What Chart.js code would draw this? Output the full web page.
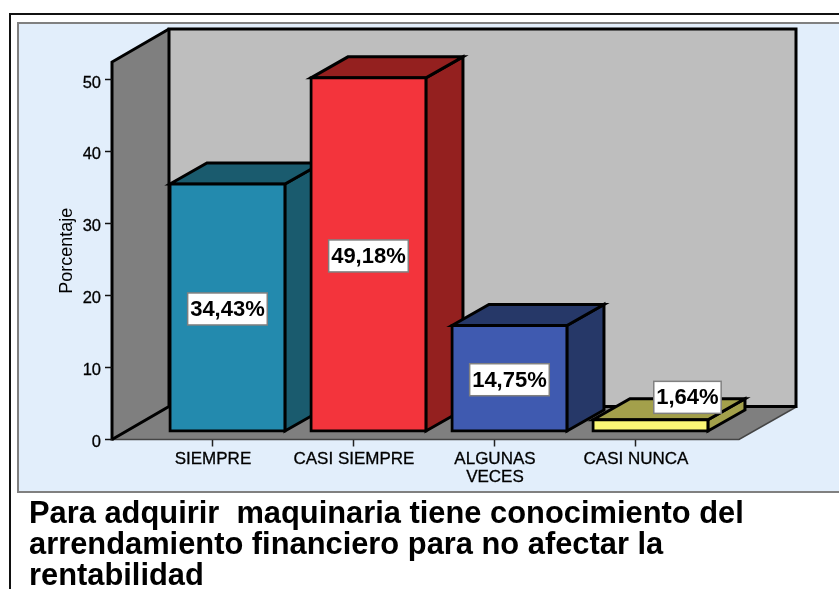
<!DOCTYPE html>
<html>
<head>
<meta charset="utf-8">
<style>html,body{margin:0;padding:0;background:#fff}canvas{display:block}</style>
<script src="https://cdn.jsdelivr.net/npm/chart.js@4"></script>
</head>
<body>
<canvas id="c" width="839" height="589"></canvas>
<script>
const categories = ['SIEMPRE', 'CASI SIEMPRE', ['ALGUNAS', 'VECES'], 'CASI NUNCA'];
const percentages = [34.43, 49.18, 14.75, 1.64];
const frontColors = ['#238AAE', '#F3343C', '#3F5AB0', '#FBF775'];
const sideColors = ['#1A5B6E', '#94201F', '#263868', '#A3A04B'];
const yTicks = [0, 10, 20, 30, 40, 50];
const titleLines = ['Para adquirir  maquinaria tiene conocimiento del', 'arrendamiento financiero para no afectar la', 'rentabilidad'];
const axisTitle = 'Porcentaje';

const FONT = "'Liberation Sans', Arial, sans-serif";
const WALL = {dx: 57, dy: 33};
const BAR_SHIFT = {x: 14.5, y: 8};
const BAR_DEPTH = {dx: 37, dy: 21};
const LABEL_NUDGE = [[0, 1.5], [0, 1.5], [0, 1.5], [37, -28]];

const scene = {
  id: 'scene',
  beforeDraw(chart) {
    const {ctx, chartArea: a, scales: {y}} = chart;
    const x0 = a.left, y0 = y.getPixelForValue(0), xB = a.right, yTop = a.top;
    const xF = xB - WALL.dx;
    const yT = yTop - WALL.dy;
    ctx.save();
    ctx.fillStyle = '#fff'; ctx.fillRect(0, 0, 839, 589);
    // outer frame
    ctx.strokeStyle = '#111'; ctx.lineWidth = 2;
    ctx.beginPath(); ctx.moveTo(10, 589); ctx.lineTo(10, 14); ctx.lineTo(839, 14); ctx.stroke();
    // panel
    ctx.fillStyle = '#E2EEFB'; ctx.fillRect(18, 23, 830, 469);
    ctx.strokeStyle = '#808080'; ctx.lineWidth = 2;
    ctx.beginPath(); ctx.moveTo(839, 23); ctx.lineTo(18, 23); ctx.lineTo(18, 492); ctx.lineTo(839, 492); ctx.stroke();
    // back wall
    const wx = x0 + WALL.dx, wy = y0 - WALL.dy;
    ctx.fillStyle = '#BEBEBE'; ctx.fillRect(wx, yT, xB - wx, wy - yT);
    // left wall
    ctx.fillStyle = '#7F7F7F';
    ctx.beginPath(); ctx.moveTo(x0, yTop); ctx.lineTo(wx, yT); ctx.lineTo(wx, wy); ctx.lineTo(x0, y0); ctx.closePath(); ctx.fill();
    // floor
    ctx.beginPath(); ctx.moveTo(x0, y0); ctx.lineTo(wx, wy); ctx.lineTo(xB, wy); ctx.lineTo(xF, y0); ctx.closePath(); ctx.fill();
    ctx.strokeStyle = '#444'; ctx.lineWidth = 1.5;
    ctx.beginPath(); ctx.moveTo(x0, y0); ctx.lineTo(xF, y0); ctx.lineTo(xB + 1, wy); ctx.stroke();
    ctx.strokeStyle = '#000'; ctx.lineWidth = 3; ctx.lineJoin = 'miter';
    ctx.beginPath(); ctx.moveTo(x0, y0); ctx.lineTo(wx, wy); ctx.lineTo(xB, wy); ctx.lineTo(xB, yT); ctx.lineTo(wx, yT); ctx.lineTo(wx, wy); ctx.stroke();
    ctx.beginPath(); ctx.moveTo(wx, yT); ctx.lineTo(x0, yTop); ctx.lineTo(x0, y0 + 1); ctx.stroke();
    ctx.restore();
  },
  beforeDatasetsDraw(chart) {
    const {ctx} = chart;
    ctx.save();
    ctx.translate(BAR_SHIFT.x, -BAR_SHIFT.y);
    ctx.strokeStyle = '#000'; ctx.lineWidth = 3; ctx.lineJoin = 'miter';
    chart.getDatasetMeta(0).data.forEach((b, i) => {
      const l = b.x - b.width / 2, r = b.x + b.width / 2, t = b.y, bt = b.base;
      const {dx, dy} = BAR_DEPTH;
      ctx.fillStyle = sideColors[i];
      ctx.beginPath(); ctx.moveTo(r, t); ctx.lineTo(r + dx, t - dy); ctx.lineTo(r + dx, bt - dy); ctx.lineTo(r, bt); ctx.closePath(); ctx.fill(); ctx.stroke();
      ctx.beginPath(); ctx.moveTo(l, t); ctx.lineTo(l + dx, t - dy); ctx.lineTo(r + dx, t - dy); ctx.lineTo(r, t); ctx.closePath(); ctx.fill(); ctx.stroke();
    });
  },
  afterDatasetsDraw(chart) {
    const {ctx} = chart;
    const meta = chart.getDatasetMeta(0);
    ctx.font = 'bold 22px ' + FONT;
    ctx.textAlign = 'center'; ctx.textBaseline = 'middle';
    meta.data.forEach((b, i) => {
      const text = percentages[i].toFixed(2).replace('.', ',') + '%';
      const w = ctx.measureText(text).width + 5, h = 32;
      const cx = b.x + LABEL_NUDGE[i][0], cy = (b.y + b.base) / 2 + LABEL_NUDGE[i][1];
      ctx.fillStyle = '#fff'; ctx.strokeStyle = '#808080'; ctx.lineWidth = 1.5;
      ctx.fillRect(cx - w / 2, cy - h / 2, w, h);
      ctx.strokeRect(cx - w / 2, cy - h / 2, w, h);
      ctx.fillStyle = '#000';
      ctx.fillText(text, cx, cy + 1);
    });
    ctx.restore();
  }
};

new Chart(document.getElementById('c'), {
  type: 'bar',
  plugins: [scene],
  data: {
    datasets: [{
      data: percentages.map((v, i) => ({x: i + 1, y: v})),
      backgroundColor: frontColors,
      borderColor: '#000',
      borderWidth: 3,
      inflateAmount: 1.5,
      borderSkipped: false,
      barThickness: 115,
      clip: false
    }]
  },
  options: {
    responsive: false,
    animation: false,
    events: [],
    layout: {padding: {left: 29, right: 43, top: 62, bottom: 0}},
    plugins: {
      legend: {display: false},
      tooltip: {enabled: false},
      title: {
        display: true,
        text: titleLines,
        position: 'bottom',
        align: 'start',
        color: '#000',
        font: {family: FONT, size: 30.85, weight: 'bold', lineHeight: '31px'},
        padding: {top: 3, bottom: -3}
      }
    },
    scales: {
      x: {
        type: 'linear',
        offset: false,
        min: 0.284,
        max: 5.135,
        afterFit(s) { s.height = 56.5; },
        afterBuildTicks(s) { s.ticks = categories.map((_, i) => ({value: i + 1})); },
        border: {display: false},
        grid: {offset: false, drawOnChartArea: false, drawTicks: true, tickLength: 7, tickColor: '#222', tickWidth: 1.5},
        ticks: {
          autoSkip: false, maxRotation: 0, includeBounds: false, padding: 4, color: '#000',
          textStrokeColor: '#000', textStrokeWidth: 0.3,
          font: {family: FONT, size: 17, lineHeight: '18px'},
          callback: v => categories[v - 1]
        }
      },
      y: {
        min: 0,
        max: 52.5,
        afterFit(s) { s.width = 83; },
        afterBuildTicks(s) { s.ticks = yTicks.map(v => ({value: v})); },
        border: {display: false},
        grid: {drawOnChartArea: false, drawTicks: true, tickLength: 7, tickColor: '#111', tickWidth: 1.5},
        title: {display: true, text: axisTitle, color: '#000', font: {family: FONT, size: 18}, padding: {top: 27, bottom: 0}},
        ticks: {
          padding: 4, color: '#000',
          textStrokeColor: '#000', textStrokeWidth: 0.3,
          font: {family: FONT, size: 16.5, lineHeight: '6px'},
          callback: v => ['', String(v)]
        }
      }
    }
  }
});
</script>
</body>
</html>
